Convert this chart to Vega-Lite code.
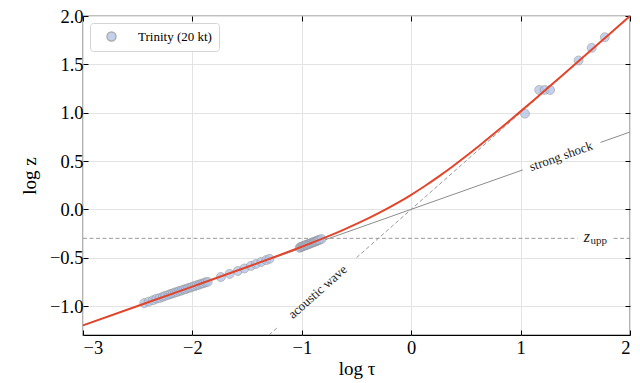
{
  "$schema": "https://vega.github.io/schema/vega-lite/v6.json",
  "width": 547,
  "height": 319,
  "autosize": {"type": "none"},
  "padding": {"left": 83, "top": 16, "right": 10, "bottom": 48},
  "background": "white",
  "config": {
    "view": {"stroke": "black", "strokeWidth": 1.2},
    "font": "'Liberation Serif', serif",
    "axis": {
      "labelFont": "'Liberation Serif', serif",
      "titleFont": "'Liberation Serif', serif",
      "labelFontSize": 18.5,
      "titleFontSize": 19,
      "titleFontWeight": "normal",
      "labelColor": "black",
      "titleColor": "black",
      "tickColor": "black",
      "domain": false
    },
    "legend": {
      "labelFont": "'Liberation Serif', serif",
      "labelFontSize": 13,
      "labelColor": "black"
    },
    "text": {"font": "'Liberation Serif', serif"}
  },
  "datasets": {
    "curve": [
      {"t": -3, "z": -1.2}, {"t": -2.5, "z": -0.9998}, {"t": -2, "z": -0.7991},
      {"t": -1.5, "z": -0.5966}, {"t": -1.25, "z": -0.4932}, {"t": -1, "z": -0.3867},
      {"t": -0.875, "z": -0.3315}, {"t": -0.75, "z": -0.2743}, {"t": -0.625, "z": -0.2145},
      {"t": -0.5, "z": -0.1513}, {"t": -0.375, "z": -0.0841}, {"t": -0.25, "z": -0.0118},
      {"t": -0.125, "z": 0.0662}, {"t": 0, "z": 0.1505}, {"t": 0.125, "z": 0.2412},
      {"t": 0.25, "z": 0.3382}, {"t": 0.375, "z": 0.4409}, {"t": 0.5, "z": 0.5487},
      {"t": 0.625, "z": 0.6605}, {"t": 0.75, "z": 0.7758}, {"t": 0.875, "z": 0.8935},
      {"t": 1, "z": 1.0133}, {"t": 1.125, "z": 1.1345}, {"t": 1.25, "z": 1.2568},
      {"t": 1.375, "z": 1.3798}, {"t": 1.5, "z": 1.5034}, {"t": 1.625, "z": 1.6274},
      {"t": 1.75, "z": 1.7517}, {"t": 1.875, "z": 1.8762}, {"t": 2, "z": 2.0}
    ],
    "obs": [
      {"t": -2.44, "z": -0.97, "src": "Trinity (20 kt)"},
      {"t": -2.4, "z": -0.955, "src": "Trinity (20 kt)"},
      {"t": -2.36, "z": -0.94, "src": "Trinity (20 kt)"},
      {"t": -2.33, "z": -0.925, "src": "Trinity (20 kt)"},
      {"t": -2.3, "z": -0.918, "src": "Trinity (20 kt)"},
      {"t": -2.27, "z": -0.905, "src": "Trinity (20 kt)"},
      {"t": -2.25, "z": -0.895, "src": "Trinity (20 kt)"},
      {"t": -2.22, "z": -0.885, "src": "Trinity (20 kt)"},
      {"t": -2.2, "z": -0.876, "src": "Trinity (20 kt)"},
      {"t": -2.18, "z": -0.87, "src": "Trinity (20 kt)"},
      {"t": -2.16, "z": -0.86, "src": "Trinity (20 kt)"},
      {"t": -2.14, "z": -0.855, "src": "Trinity (20 kt)"},
      {"t": -2.12, "z": -0.845, "src": "Trinity (20 kt)"},
      {"t": -2.1, "z": -0.84, "src": "Trinity (20 kt)"},
      {"t": -2.08, "z": -0.83, "src": "Trinity (20 kt)"},
      {"t": -2.06, "z": -0.825, "src": "Trinity (20 kt)"},
      {"t": -2.04, "z": -0.815, "src": "Trinity (20 kt)"},
      {"t": -2.02, "z": -0.81, "src": "Trinity (20 kt)"},
      {"t": -2.0, "z": -0.8, "src": "Trinity (20 kt)"},
      {"t": -1.98, "z": -0.795, "src": "Trinity (20 kt)"},
      {"t": -1.96, "z": -0.785, "src": "Trinity (20 kt)"},
      {"t": -1.94, "z": -0.78, "src": "Trinity (20 kt)"},
      {"t": -1.92, "z": -0.77, "src": "Trinity (20 kt)"},
      {"t": -1.9, "z": -0.765, "src": "Trinity (20 kt)"},
      {"t": -1.88, "z": -0.755, "src": "Trinity (20 kt)"},
      {"t": -1.86, "z": -0.75, "src": "Trinity (20 kt)"},
      {"t": -1.74, "z": -0.7, "src": "Trinity (20 kt)"},
      {"t": -1.66, "z": -0.668, "src": "Trinity (20 kt)"},
      {"t": -1.585, "z": -0.638, "src": "Trinity (20 kt)"},
      {"t": -1.525, "z": -0.612, "src": "Trinity (20 kt)"},
      {"t": -1.465, "z": -0.585, "src": "Trinity (20 kt)"},
      {"t": -1.42, "z": -0.565, "src": "Trinity (20 kt)"},
      {"t": -1.37, "z": -0.544, "src": "Trinity (20 kt)"},
      {"t": -1.325, "z": -0.525, "src": "Trinity (20 kt)"},
      {"t": -1.295, "z": -0.512, "src": "Trinity (20 kt)"},
      {"t": -1.02, "z": -0.398, "src": "Trinity (20 kt)"},
      {"t": -1.01, "z": -0.39, "src": "Trinity (20 kt)"},
      {"t": -1.0, "z": -0.388, "src": "Trinity (20 kt)"},
      {"t": -0.99, "z": -0.38, "src": "Trinity (20 kt)"},
      {"t": -0.98, "z": -0.379, "src": "Trinity (20 kt)"},
      {"t": -0.97, "z": -0.372, "src": "Trinity (20 kt)"},
      {"t": -0.96, "z": -0.37, "src": "Trinity (20 kt)"},
      {"t": -0.95, "z": -0.364, "src": "Trinity (20 kt)"},
      {"t": -0.94, "z": -0.36, "src": "Trinity (20 kt)"},
      {"t": -0.93, "z": -0.357, "src": "Trinity (20 kt)"},
      {"t": -0.92, "z": -0.351, "src": "Trinity (20 kt)"},
      {"t": -0.91, "z": -0.347, "src": "Trinity (20 kt)"},
      {"t": -0.9, "z": -0.343, "src": "Trinity (20 kt)"},
      {"t": -0.89, "z": -0.338, "src": "Trinity (20 kt)"},
      {"t": -0.88, "z": -0.334, "src": "Trinity (20 kt)"},
      {"t": -0.87, "z": -0.33, "src": "Trinity (20 kt)"},
      {"t": -0.86, "z": -0.325, "src": "Trinity (20 kt)"},
      {"t": -0.85, "z": -0.32, "src": "Trinity (20 kt)"},
      {"t": -0.84, "z": -0.316, "src": "Trinity (20 kt)"},
      {"t": -0.82, "z": -0.307, "src": "Trinity (20 kt)"},
      {"t": 1.04, "z": 0.99, "src": "Trinity (20 kt)"},
      {"t": 1.17, "z": 1.235, "src": "Trinity (20 kt)"},
      {"t": 1.22, "z": 1.235, "src": "Trinity (20 kt)"},
      {"t": 1.27, "z": 1.235, "src": "Trinity (20 kt)"},
      {"t": 1.53, "z": 1.54, "src": "Trinity (20 kt)"},
      {"t": 1.65, "z": 1.67, "src": "Trinity (20 kt)"},
      {"t": 1.77, "z": 1.78, "src": "Trinity (20 kt)"}
    ],
    "guides": [
      {"t": -3, "z": -1.2, "line": "strong", "seg": "s1"},
      {"t": 1.02, "z": 0.408, "line": "strong", "seg": "s1"},
      {"t": 1.73, "z": 0.692, "line": "strong", "seg": "s2"},
      {"t": 2, "z": 0.8, "line": "strong", "seg": "s2"},
      {"t": -1.3, "z": -1.3, "line": "acoustic", "seg": "a1"},
      {"t": -1.21, "z": -1.21, "line": "acoustic", "seg": "a1"},
      {"t": -0.5, "z": -0.5, "line": "acoustic", "seg": "a2"},
      {"t": 2, "z": 2, "line": "acoustic", "seg": "a2"},
      {"t": -3, "z": -0.3, "line": "zupp", "seg": "u1"},
      {"t": 1.52, "z": -0.3, "line": "zupp", "seg": "u1"},
      {"t": 1.85, "z": -0.3, "line": "zupp", "seg": "u2"},
      {"t": 2, "z": -0.3, "line": "zupp", "seg": "u2"}
    ],
    "labels": [
      {"t": 1.37, "z": 0.548, "text": "strong shock"},
      {"t": -0.855, "z": -0.855, "text": "acoustic wave"},
      {"t": 1.605, "z": -0.3, "text": "z"},
      {"t": 1.715, "z": -0.3, "text": "upp"}
    ]
  },
  "layer": [
    {
      "data": {"name": "guides"},
      "transform": [{"filter": "datum.line == 'strong'"}],
      "mark": {"type": "line", "color": "#8c8c8c", "strokeWidth": 1},
      "encoding": {
        "x": {"field": "t", "type": "quantitative", "scale": {"domain": [-3, 2], "nice": false},
          "axis": {"orient": "top", "labels": false, "grid": false, "title": null, "values": [-3, -2, -1, 0, 1, 2], "tickSize": -5}},
        "y": {"field": "z", "type": "quantitative", "scale": {"domain": [-1.3, 2], "nice": false, "zero": false},
          "axis": {"orient": "right", "labels": false, "grid": false, "title": null, "values": [-1, -0.5, 0, 0.5, 1, 1.5, 2], "tickSize": -5}},
        "detail": {"field": "seg"}
      }
    },
    {
      "data": {"name": "guides"},
      "transform": [{"filter": "datum.line != 'strong'"}],
      "mark": {"type": "line", "color": "#9a9a9a", "strokeWidth": 1, "strokeDash": [4, 2.5]},
      "encoding": {
        "x": {"field": "t", "type": "quantitative", "axis": null},
        "y": {"field": "z", "type": "quantitative", "axis": null},
        "detail": {"field": "seg"}
      }
    },
    {
      "data": {"name": "obs"},
      "mark": {"type": "circle", "size": 80, "opacity": 0.75, "stroke": "#939393", "strokeWidth": 0.8},
      "encoding": {
        "x": {"field": "t", "type": "quantitative", "axis": null},
        "y": {"field": "z", "type": "quantitative", "axis": null},
        "color": {"field": "src", "type": "nominal", "scale": {"range": ["#afc2e6"]},
          "legend": {"title": null, "orient": "top-left", "offset": 7, "padding": 7, "fillColor": "white",
            "strokeColor": "#d4d4d4", "cornerRadius": 3, "symbolSize": 80, "symbolOffset": 8, "labelOffset": 20,
            "labelFont": "'Liberation Serif', serif",
            "symbolStrokeColor": "#939393", "symbolOpacity": 0.75}}
      }
    },
    {
      "data": {"name": "curve"},
      "mark": {"type": "line", "color": "#e2452a", "strokeWidth": 2, "interpolate": "monotone"},
      "encoding": {
        "x": {"field": "t", "type": "quantitative",
          "axis": {"orient": "bottom", "values": [-3, -2, -1, 0, 1, 2], "format": "d", "tickSize": -5, "labelPadding": 8,
            "labelFont": "'Liberation Serif', serif", "titleFont": "'Liberation Serif', serif",
            "grid": true, "gridColor": "#e3e3e3", "gridWidth": 1, "title": "log τ", "titlePadding": 3}},
        "y": {"field": "z", "type": "quantitative",
          "axis": {"orient": "left", "values": [-1, -0.5, 0, 0.5, 1, 1.5, 2], "format": ".1f", "tickSize": -5, "labelPadding": 5,
            "labelFont": "'Liberation Serif', serif", "titleFont": "'Liberation Serif', serif",
            "grid": true, "gridColor": "#e3e3e3", "gridWidth": 1, "title": "log z", "titlePadding": 10}}
      }
    },
    {
      "data": {"name": "labels"},
      "transform": [{"filter": "datum.text == 'strong shock'"}],
      "mark": {"type": "text", "angle": -19.5, "fontSize": 13, "font": "'Liberation Serif', serif", "color": "#222"},
      "encoding": {
        "x": {"field": "t", "type": "quantitative", "axis": null},
        "y": {"field": "z", "type": "quantitative", "axis": null},
        "text": {"field": "text"}
      }
    },
    {
      "data": {"name": "labels"},
      "transform": [{"filter": "datum.text == 'acoustic wave'"}],
      "mark": {"type": "text", "angle": -41.6, "fontSize": 13, "font": "'Liberation Serif', serif", "color": "#222"},
      "encoding": {
        "x": {"field": "t", "type": "quantitative", "axis": null},
        "y": {"field": "z", "type": "quantitative", "axis": null},
        "text": {"field": "text"}
      }
    },
    {
      "data": {"name": "labels"},
      "transform": [{"filter": "datum.text == 'z'"}],
      "mark": {"type": "text", "fontSize": 16, "fontStyle": "italic", "font": "'Liberation Serif', serif", "color": "#222", "dy": -1},
      "encoding": {
        "x": {"field": "t", "type": "quantitative", "axis": null},
        "y": {"field": "z", "type": "quantitative", "axis": null},
        "text": {"field": "text"}
      }
    },
    {
      "data": {"name": "labels"},
      "transform": [{"filter": "datum.text == 'upp'"}],
      "mark": {"type": "text", "fontSize": 11, "font": "'Liberation Serif', serif", "color": "#222", "dy": 3},
      "encoding": {
        "x": {"field": "t", "type": "quantitative", "axis": null},
        "y": {"field": "z", "type": "quantitative", "axis": null},
        "text": {"field": "text"}
      }
    }
  ],
  "resolve": {"axis": {"x": "independent", "y": "independent"}}
}
